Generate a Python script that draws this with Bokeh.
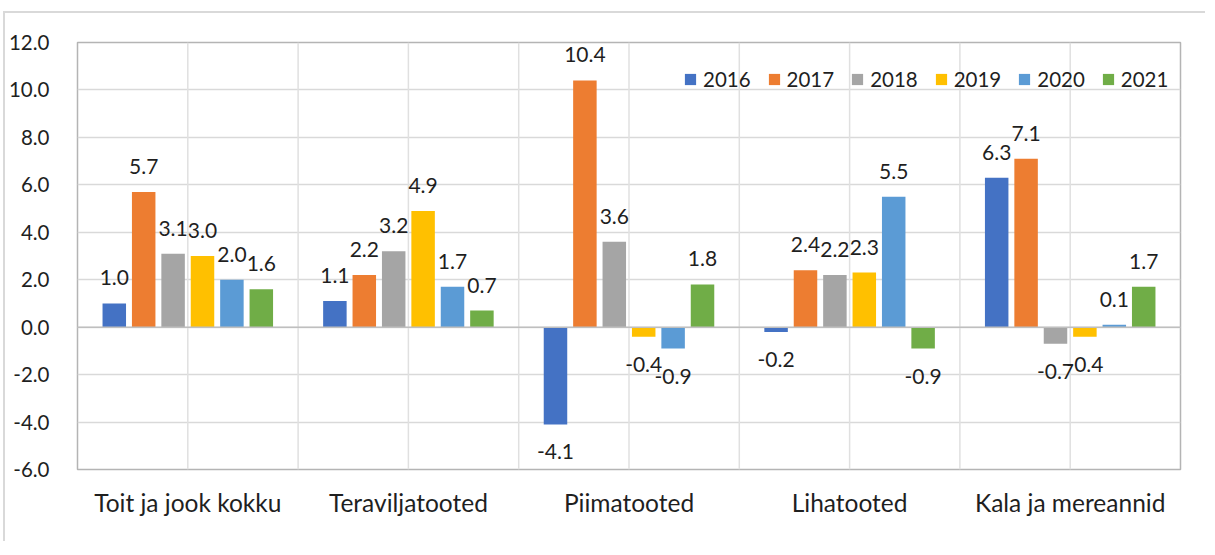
from bokeh.plotting import figure
from bokeh.models import (ColumnDataSource, FactorRange, Range1d, NumeralTickFormatter,
                          LabelSet, Span, Legend, LegendItem, FixedTicker)
from bokeh.transform import dodge
from bokeh.core.properties import value
from bokeh.embed import file_html
from bokeh.resources import INLINE

categories = ["Toit ja jook kokku", "Teraviljatooted", "Piimatooted", "Lihatooted", "Kala ja mereannid"]
years = ["2016", "2017", "2018", "2019", "2020", "2021"]
v2016 = [1.0, 1.1, -4.1, -0.2, 6.3]
v2017 = [5.7, 2.2, 10.4, 2.4, 7.1]
v2018 = [3.1, 3.2, 3.6, 2.2, -0.7]
v2019 = [3.0, 4.9, -0.4, 2.3, -0.4]
v2020 = [2.0, 1.7, -0.9, 5.5, 0.1]
v2021 = [1.6, 0.7, 1.8, -0.9, 1.7]
y_ticks = [-6.0, -4.0, -2.0, 0.0, 2.0, 4.0, 6.0, 8.0, 10.0, 12.0]
colors = ["#4472C4", "#ED7D31", "#A5A5A5", "#FFC000", "#5B9BD5", "#70AD47"]
series = [v2016, v2017, v2018, v2019, v2020, v2021]

FONT = "Lato"
TXT = "#1f1f1f"
NUM_SIZE = "20.5px"
LBL_SIZE = "21px"
CAT_SIZE = "24.5px"

p = figure(x_range=FactorRange(factors=categories), y_range=Range1d(-6, 12),
           frame_width=1103, frame_height=427,
           min_border_left=66, min_border_right=25, min_border_top=29, min_border_bottom=72,
           output_backend="svg", toolbar_location=None, background_fill_color="white",
           border_fill_color="white")
p.styles = {"position": "relative", "top": "11px", "margin-left": "3px",
            "border-left": "2px solid #d9d9d9", "border-top": "2px solid #d9d9d9"}

p.outline_line_color = "#b4b4b4"
p.outline_line_width = 1.5
p.xgrid.visible = False
p.ygrid.grid_line_color = "#d9d9d9"
p.ygrid.grid_line_width = 1.5

n = len(categories)
for k in range(1, 2 * n):
    p.add_layout(Span(location=k / 2, dimension="height", line_color="#e0e0e0",
                      line_width=1.5, level="underlay"))

p.yaxis.ticker = FixedTicker(ticks=y_ticks)
p.yaxis.formatter = NumeralTickFormatter(format="0.0")
for ax in (p.xaxis[0], p.yaxis[0]):
    ax.axis_line_color = None
    ax.major_tick_line_color = None
    ax.minor_tick_line_color = None
    ax.major_label_text_font = FONT
    ax.major_label_text_color = TXT
p.yaxis.major_label_text_font_size = NUM_SIZE
p.yaxis.major_label_standoff = 22
p.xaxis.major_label_text_font_size = CAT_SIZE
p.xaxis.major_label_standoff = 12

pitch = 0.1333
bar_w = 0.1065
items = []
for i, (yr, vals, col) in enumerate(zip(years, series, colors)):
    off = (i - 2.5) * pitch
    src = ColumnDataSource(dict(cat=categories, val=vals,
                                txt=["%.1f" % v for v in vals],
                                yoff=[18 if v >= 0 else -35 for v in vals]))
    r = p.vbar(x=dodge("cat", off, range=p.x_range), top="val", bottom=0, width=bar_w,
               source=src, fill_color=col, line_color=None)
    items.append(LegendItem(label=yr, renderers=[r]))
    p.add_layout(LabelSet(x=dodge("cat", off, range=p.x_range), y="val", text="txt",
                          y_offset="yoff", source=src, text_align="center",
                          text_baseline="alphabetic", text_font=value(FONT),
                          text_font_size=value(LBL_SIZE), text_color=TXT))

p.add_layout(Span(location=0, dimension="width", line_color="#bfbfbf", line_width=1.5))

legend = Legend(items=items, orientation="horizontal", location=(606, 378),
                glyph_width=14, glyph_height=14, label_standoff=6, spacing=16,
                padding=0, margin=0, border_line_color=None, background_fill_alpha=0,
                label_text_font=FONT, label_text_font_size=NUM_SIZE, label_text_color=TXT)
p.add_layout(legend)

open("out.html", "w").write(file_html(p, INLINE))
